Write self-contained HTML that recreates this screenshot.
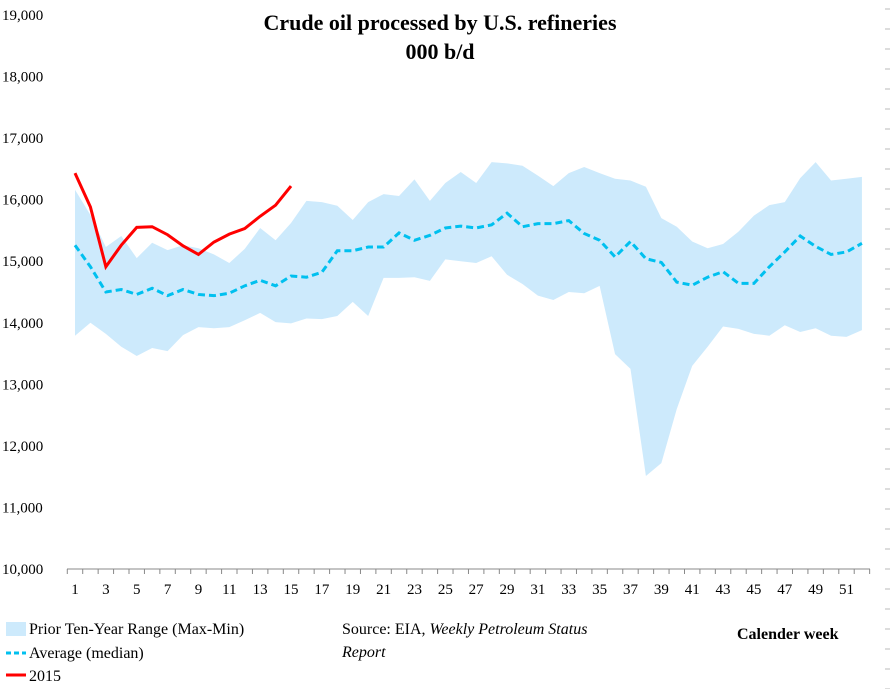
<!DOCTYPE html>
<html><head><meta charset="utf-8"><style>
body{margin:0;background:#fff;}
svg{display:block;font-family:"Liberation Serif",serif;}
</style></head><body>
<svg id="chart" width="890" height="689">
<text x="440" y="30" text-anchor="middle" font-size="22" font-weight="bold">Crude oil processed by U.S. refineries</text>
<text x="440" y="59" text-anchor="middle" font-size="22" font-weight="bold">000 b/d</text>
<g id="plot"></g>
<g id="legend" font-size="16">
<rect x="6" y="622" width="20" height="14" fill="#cdeafc"/>
<text x="29" y="634">Prior Ten-Year Range (Max-Min)</text>
<line x1="6" y1="653" x2="26" y2="653" stroke="#00c0ef" stroke-width="3" stroke-dasharray="5,3"/>
<text x="29" y="658">Average (median)</text>
<line x1="6" y1="675" x2="26" y2="675" stroke="#ff0000" stroke-width="3"/>
<text x="29" y="681">2015</text>
<text x="342" y="634">Source: EIA, <tspan font-style="italic">Weekly Petroleum Status</tspan></text>
<text x="342" y="657" font-style="italic">Report</text>
<text x="737" y="639" font-weight="bold">Calender week</text>
</g>
</svg>
<script>
const weeks=[];for(let i=1;i<=52;i++)weeks.push(i);
const maxVals=[16160,15750,15230,15410,15050,15300,15180,15260,15210,15110,14970,15200,15540,15340,15620,15980,15960,15900,15670,15960,16090,16060,16330,15980,16270,16450,16270,16610,16590,16550,16390,16220,16430,16530,16430,16340,16310,16210,15700,15560,15320,15210,15280,15480,15740,15910,15960,16350,16610,16310,16340,16370];
const minVals=[13790,14000,13820,13610,13460,13590,13540,13800,13930,13910,13930,14040,14160,14010,13990,14070,14060,14110,14340,14110,14730,14730,14740,14680,15030,15000,14970,15080,14780,14630,14440,14370,14500,14480,14600,13490,13250,11510,11720,12600,13300,13610,13940,13900,13820,13790,13960,13850,13910,13790,13770,13880];
const avgVals=[15260,14910,14500,14540,14460,14560,14440,14540,14460,14440,14480,14600,14690,14600,14760,14740,14820,15170,15170,15230,15230,15460,15340,15420,15540,15570,15540,15590,15780,15560,15610,15610,15660,15450,15340,15070,15320,15040,14980,14660,14610,14740,14830,14640,14640,14910,15150,15410,15240,15110,15150,15290];
const vals2015=[16430,15880,14910,15260,15550,15560,15430,15250,15110,15310,15440,15530,15730,15910,16220];
const yTicks=[10000,11000,12000,13000,14000,15000,16000,17000,18000,19000];
const xTickLabels=[1,3,5,7,9,11,13,15,17,19,21,23,25,27,29,31,33,35,37,39,41,43,45,47,49,51];
const NS="http://www.w3.org/2000/svg";
const X=w=>75+(w-1)*15.43;
const Y=v=>569-(v-10000)*0.06156;
const g=document.getElementById('plot');
function mk(t,a){const e=document.createElementNS(NS,t);for(const k in a)e.setAttribute(k,a[k]);g.appendChild(e);return e;}
let d=weeks.map((w,i)=>(i?'L':'M')+X(w)+','+Y(maxVals[i])).join('');
for(let i=weeks.length-1;i>=0;i--)d+='L'+X(weeks[i])+','+Y(minVals[i]);
const area=mk('path',{d:d+'Z',fill:'#cdeafc'});


const avg=mk('path',{d:weeks.map((w,i)=>(i?'L':'M')+X(w)+','+Y(avgVals[i])).join(''),fill:'none',stroke:'#00c0ef','stroke-width':3,'stroke-dasharray':'7,4'});


const red=mk('path',{d:vals2015.map((v,i)=>(i?'L':'M')+X(i+1)+','+Y(v)).join(''),fill:'none',stroke:'#ff0000','stroke-width':3});


const ax=mk('line',{x1:67,x2:870,y1:569,y2:569,stroke:'#888','stroke-width':1});


for(let w=0.5;w<=52.5;w+=1){const t=mk('line',{x1:X(w),x2:X(w),y1:569,y2:574,stroke:'#888'});

}
xTickLabels.forEach(w=>{const t=mk('text',{x:X(w),y:594,'text-anchor':'middle','font-size':15});t.textContent=w;

});
yTicks.forEach(v=>{const t=mk('text',{x:2,y:Y(v)+5,'font-size':15});t.textContent=v.toLocaleString('en-US');

});
for(let y=9;y<690;y+=20){const t=mk('line',{x1:885,x2:890,y1:y,y2:y,stroke:'#bbb'});

}
</script>
</body></html>
